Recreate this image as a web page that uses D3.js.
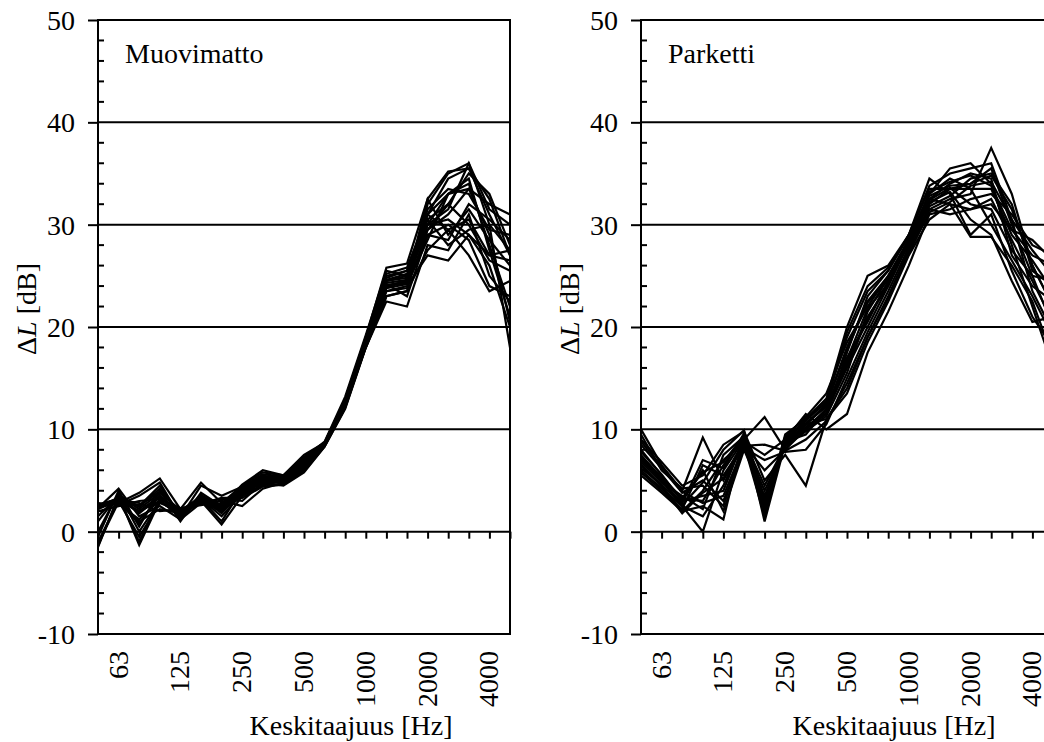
<!DOCTYPE html>
<html><head><meta charset="utf-8">
<script src="https://cdn.jsdelivr.net/npm/d3@7/dist/d3.min.js"></script>
<style>body{margin:0;background:#fff;overflow:hidden}svg{display:block}text{font-family:"Liberation Serif","Times New Roman",serif;fill:#000}</style>
</head><body><svg id="c" width="1044" height="742"></svg>
<script>
// 1/3-octave band centre frequencies (categories)
const bands = [50,63,80,100,125,160,200,250,315,400,500,630,800,1000,1250,1600,2000,2500,3150,4000,5000];
const bandLabels = ["63","125","250","500","1000","2000","4000"];
const yTicks = [-10,0,10,20,30,40,50];
const panelTitles = ["Muovimatto","Parketti"];
const xTitle = "Keskitaajuus [Hz]";

// Muovimatto: ΔL curves [dB]
const muovimatto = [
 [2.5,3.0,2.0,3.5,1.8,3.0,2.5,4.0,5.0,5.0,6.5,8.5,12.5,18.5,24.0,24.5,30.0,33.0,34.0,28.0,22.0],
 [-1.5,3.5,-1.3,3.0,1.5,3.0,2.0,3.5,4.5,5.0,6.0,8.5,12.5,18.0,23.0,23.5,32.0,35.0,36.0,30.0,18.0],
 [2.7,2.8,3.8,5.2,2.2,4.8,2.8,4.5,5.8,5.5,7.5,8.7,13.0,19.0,25.8,26.2,32.5,35.2,35.5,31.0,27.0],
 [2.3,4.2,1.5,2.5,1.2,2.8,3.2,3.0,4.8,4.5,5.8,8.3,12.0,18.0,22.5,22.0,28.0,27.5,31.0,25.0,22.5],
 [-1.0,3.0,-0.5,2.8,2.0,3.2,1.0,4.2,5.2,5.2,7.0,8.6,12.8,18.8,24.5,25.0,29.5,31.0,33.5,32.0,31.0],
 [2.6,3.2,2.5,4.5,1.6,3.5,2.2,3.8,5.5,5.0,6.8,8.5,12.6,18.5,24.8,25.5,31.0,29.5,30.5,27.0,26.5],
 [2.0,2.5,3.0,3.2,2.3,2.6,3.0,2.5,4.2,4.8,6.2,8.4,12.3,18.2,23.5,24.0,27.0,26.5,29.0,26.0,20.0],
 [-0.5,4.0,0.5,4.0,1.0,3.8,2.5,4.6,6.0,5.5,7.2,8.8,13.2,19.2,25.5,25.0,30.5,32.0,35.0,33.0,28.0],
 [2.4,3.0,1.0,2.2,1.8,3.0,0.7,3.5,4.6,5.3,6.5,8.5,12.4,18.4,24.2,23.0,29.0,30.0,28.5,24.0,23.0],
 [1.5,3.5,2.2,3.8,2.1,3.3,1.8,4.0,5.0,4.7,6.0,8.5,12.5,18.6,24.5,24.8,31.5,33.5,33.0,29.5,29.0],
 [2.8,2.6,3.5,4.8,1.4,4.5,3.5,4.4,5.6,5.4,7.3,8.7,12.8,19.0,25.0,25.5,30.5,28.0,29.5,30.0,27.5],
 [0.0,3.8,0.0,3.0,1.6,2.9,2.3,3.6,4.9,5.1,6.4,8.4,12.2,18.1,23.8,24.2,28.5,33.0,34.5,27.5,21.0],
 [2.5,3.3,1.8,3.4,1.9,3.1,2.6,3.9,5.2,5.2,6.9,8.6,12.7,18.7,24.6,25.2,30.0,31.5,36.0,31.5,30.0],
 [-1.2,2.9,0.8,3.6,1.3,3.4,2.0,4.1,5.3,4.9,6.6,8.5,12.6,18.5,24.0,24.5,32.5,29.0,31.5,28.5,26.0],
 [2.2,3.1,2.8,2.0,2.2,2.7,3.3,3.3,4.4,4.6,5.9,8.3,12.1,18.0,23.0,23.5,27.5,29.5,27.0,23.5,24.5],
 [1.0,3.6,2.4,4.2,1.7,3.6,2.4,4.3,5.4,5.3,7.1,8.7,12.9,18.9,25.2,25.8,31.0,34.5,35.5,32.5,27.0],
 [2.7,2.7,1.2,3.1,1.5,3.2,1.5,3.7,4.8,5.0,6.3,8.4,12.3,18.3,23.5,23.8,29.5,32.0,30.0,26.5,25.5],
 [-1.4,3.4,-1.0,3.3,1.8,3.0,2.7,3.8,5.1,5.1,6.7,8.6,12.7,18.6,24.3,24.6,31.0,33.0,33.5,29.0,20.5],
 [2.3,3.0,2.6,3.9,2.0,3.4,2.1,4.0,5.0,5.2,6.8,8.5,12.5,18.5,24.0,24.3,29.0,28.5,32.0,30.5,28.5],
 [2.6,3.2,2.0,3.0,1.7,3.1,2.4,3.6,4.9,5.0,6.5,8.5,12.4,18.4,24.1,24.4,30.0,30.5,29.0,27.0,27.5]
];

// Parketti: ΔL curves [dB]
const parketti = [
 [10.0,6.5,4.0,9.2,5.0,8.5,1.5,9.0,10.0,12.0,16.5,21.0,24.0,28.5,32.0,33.5,34.0,35.5,30.0,25.0,20.0],
 [8.0,5.5,3.0,6.0,2.0,8.0,3.5,8.5,10.5,11.0,14.0,19.0,23.0,27.5,31.5,32.5,33.0,37.5,33.0,26.0,22.0],
 [7.0,5.0,2.5,0.0,6.0,9.0,11.2,8.0,10.5,12.5,18.0,22.5,25.0,28.0,33.0,35.5,36.0,34.0,28.0,22.0,16.0],
 [6.5,4.5,2.0,2.5,1.2,9.5,2.0,9.5,11.0,13.0,20.0,25.0,26.0,29.0,34.5,33.0,29.0,31.0,25.5,21.0,18.0],
 [9.0,6.8,4.5,5.5,8.5,9.8,5.0,7.5,4.5,11.0,13.5,18.5,22.5,27.0,30.5,32.0,31.5,32.0,29.5,27.0,26.0],
 [5.5,3.8,2.0,4.0,7.0,8.8,7.5,9.0,11.5,10.0,11.5,17.5,21.5,26.0,31.0,31.5,32.5,33.0,31.0,28.0,27.0],
 [7.5,5.2,3.2,3.0,6.5,9.2,3.0,8.8,9.5,12.0,17.0,20.5,24.5,28.5,32.5,34.0,35.0,34.5,27.0,24.0,22.5],
 [6.0,4.2,2.5,1.5,4.5,9.0,2.0,9.2,10.8,12.8,19.0,23.5,25.5,29.0,33.5,33.5,33.5,30.0,26.5,23.0,19.0],
 [8.5,6.2,3.8,5.0,3.0,8.2,7.0,7.8,8.0,10.5,15.0,19.5,23.5,27.8,31.8,32.8,34.5,35.0,32.0,25.5,24.0],
 [7.2,5.0,2.8,7.0,6.2,9.6,1.0,8.6,10.2,11.8,16.0,20.0,24.0,28.2,32.2,33.2,30.5,29.0,24.5,20.5,21.0],
 [6.8,4.8,3.5,2.2,7.5,9.3,2.5,9.3,11.2,13.5,18.5,22.0,25.0,28.6,33.0,34.5,33.5,33.5,29.0,26.5,23.5],
 [9.5,6.0,4.2,4.5,2.5,8.7,4.0,8.3,9.8,11.3,15.5,21.5,24.8,28.0,32.5,32.0,28.8,28.8,26.0,22.5,17.0],
 [5.8,4.0,2.2,6.5,5.5,8.5,6.0,8.0,10.0,11.5,17.5,23.0,25.5,29.0,33.8,35.0,35.5,36.0,30.5,27.5,25.0],
 [7.8,5.6,3.0,3.5,4.0,9.1,2.2,9.1,10.6,12.2,16.8,21.8,24.2,28.3,31.5,31.0,31.5,32.5,28.5,24.5,20.5],
 [6.2,4.6,2.6,4.8,8.0,9.9,3.2,8.7,11.0,12.6,19.5,24.0,25.8,28.8,32.8,33.8,34.0,34.8,31.5,26.0,22.0],
 [8.8,6.4,3.9,2.8,3.5,8.4,8.5,7.9,9.0,10.8,14.5,19.0,22.8,27.2,31.2,32.2,33.8,34.2,30.5,23.5,19.5],
 [7.4,5.3,3.3,5.8,6.8,9.4,2.8,8.9,10.4,12.4,17.8,22.4,24.6,28.4,32.4,33.6,32.0,31.5,27.5,25.0,24.5],
 [6.6,4.4,1.8,3.8,5.2,8.9,4.5,8.4,10.1,11.6,16.2,20.8,24.4,28.1,33.2,34.2,34.8,33.8,29.5,28.5,26.5]
];

const svg = d3.select("#c");
const plotTop = 20, plotBottom = 634, pw = 412;
const FS = "28px";
const panels = [{x0:98, data:muovimatto, title:panelTitles[0]},{x0:641, data:parketti, title:panelTitles[1]}];
const y = d3.scaleLinear().domain([-10,50]).range([plotBottom, plotTop]);

panels.forEach(p => {
  const g = svg.append("g");
  const x = d3.scalePoint().domain(bands.map(String)).range([p.x0, p.x0 + pw]);
  // gridlines
  g.selectAll("line.grid").data([0,10,20,30,40]).join("line")
    .attr("x1", p.x0).attr("x2", p.x0+pw).attr("y1", d=>y(d)).attr("y2", d=>y(d))
    .attr("stroke","#000").attr("stroke-width",2);
  // border
  g.append("rect").attr("x",p.x0).attr("y",plotTop).attr("width",pw).attr("height",plotBottom-plotTop)
    .attr("fill","none").attr("stroke","#000").attr("stroke-width",2);
  // y axis: major ticks outside
  const yAxis = d3.axisLeft(y).tickValues(yTicks).tickSize(10).tickPadding(13).tickFormat(d => String(d));
  const ya = g.append("g").attr("transform",`translate(${p.x0},0)`).call(yAxis);
  ya.attr("font-family",null).attr("font-size",null);
  ya.select(".domain").remove();
  ya.selectAll("line").attr("stroke","#000").attr("stroke-width",2);
  ya.selectAll("text").style("font-size",FS).attr("dy","0.34em");
  // minor ticks inside
  const minor = d3.range(-10,51,2).filter(v => v%10!==0);
  g.selectAll("line.minor").data(minor).join("line")
    .attr("x1",p.x0).attr("x2",p.x0+6).attr("y1",d=>y(d)).attr("y2",d=>y(d))
    .attr("stroke","#000").attr("stroke-width",2);
  // x ticks on zero line pointing down
  const xAxis = d3.axisBottom(x).tickSize(7).tickFormat("");
  const xa = g.append("g").attr("transform",`translate(0,${y(0)})`).call(xAxis);
  xa.select(".domain").remove();
  xa.selectAll("line").attr("stroke","#000").attr("stroke-width",2);
  // x labels rotated
  g.selectAll("text.xl").data(bandLabels).join("text")
    .attr("transform", d => `translate(${x(d)+9},651) rotate(-90)`)
    .attr("text-anchor","end").style("font-size",FS).text(d=>d);
  // lines
  const line = d3.line().x((d,i)=>x(String(bands[i]))).y(d=>y(d));
  g.selectAll("path.s").data(p.data).join("path")
    .attr("d", line).attr("fill","none").attr("stroke","#000").attr("stroke-width",2.2).attr("stroke-linejoin","miter");
  // panel title
  g.append("text").attr("x",p.x0+27).attr("y",63).style("font-size",FS).text(p.title);
  // x title
  g.append("text").attr("x",p.x0+253).attr("y",735).attr("text-anchor","middle").style("font-size",FS).text(xTitle);
  // y title
  const yt = g.append("text").attr("transform",`translate(${p.x0-62},${y(20)-18}) rotate(-90)`).attr("text-anchor","middle").style("font-size",FS);
  yt.append("tspan").text("Δ");
  yt.append("tspan").style("font-style","italic").text("L");
  yt.append("tspan").text(" [dB]");
});
</script></body></html>
